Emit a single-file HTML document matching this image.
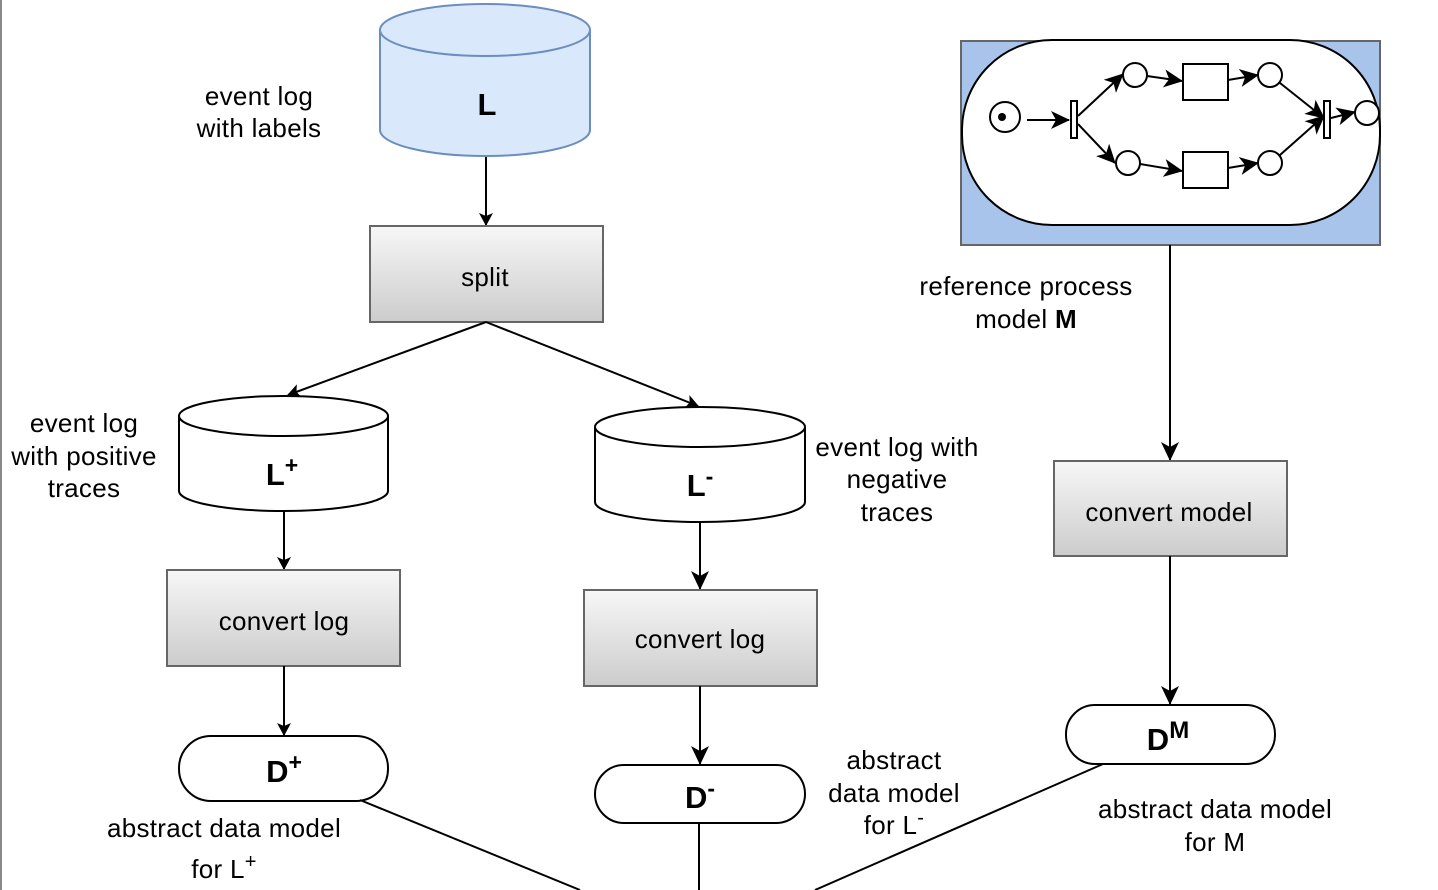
<!DOCTYPE html>
<html><head><meta charset="utf-8"><style>
html,body{margin:0;padding:0;background:#fff;}
svg{display:block;}
text{font-family:"Liberation Sans",Arial,sans-serif;fill:#000;}
</style></head><body>
<svg width="1438" height="890" viewBox="0 0 1438 890" xmlns="http://www.w3.org/2000/svg">
<defs>
<linearGradient id="g" x1="0" y1="0" x2="0" y2="1"><stop offset="0" stop-color="#f7f7f7"/><stop offset="1" stop-color="#cccccc"/></linearGradient>
<marker id="a" markerWidth="14" markerHeight="14" refX="12" refY="7" orient="auto" markerUnits="userSpaceOnUse"><path d="M0,0 L13,7 L0,14 L3,7 z" fill="#000"/></marker>
<marker id="b" markerWidth="20" markerHeight="20" refX="18" refY="9" orient="auto" markerUnits="userSpaceOnUse"><path d="M0,0 L19,9 L0,18 L5,9 z" fill="#000"/></marker>
</defs>
<line x1="1" y1="0" x2="1" y2="890" stroke="#888" stroke-width="2"/>
<g stroke="#000" stroke-width="2" fill="none">
<path d="M380,30 L380,130 A105,26 0 0 0 590,130 L590,30" fill="#dae8fc" stroke="#6c8ebf"/>
<ellipse cx="485" cy="30" rx="105" ry="26" fill="#dae8fc" stroke="#6c8ebf"/>
<line x1="486" y1="157" x2="486" y2="225" marker-end="url(#a)"/>
<rect x="370" y="226" width="233" height="96" fill="url(#g)" stroke="#666"/>
<line x1="486" y1="322" x2="288" y2="395" marker-end="url(#a)"/>
<line x1="486" y1="322" x2="698" y2="406" marker-end="url(#a)"/>
<path d="M179,416 L179,491 A104.5,20 0 0 0 388,491 L388,416" fill="#fff"/>
<ellipse cx="283.5" cy="416" rx="104.5" ry="20" fill="#fff"/>
<path d="M595,427 L595,502 A105,20 0 0 0 805,502 L805,427" fill="#fff"/>
<ellipse cx="700" cy="427" rx="105" ry="20" fill="#fff"/>
<line x1="284" y1="511" x2="284" y2="569" marker-end="url(#a)"/>
<line x1="700" y1="522" x2="700" y2="589" marker-end="url(#b)"/>
<rect x="167" y="570" width="233" height="96" fill="url(#g)" stroke="#666"/>
<rect x="584" y="590" width="233" height="96" fill="url(#g)" stroke="#666"/>
<line x1="284" y1="666" x2="284" y2="735" marker-end="url(#a)"/>
<line x1="700" y1="686" x2="700" y2="764" marker-end="url(#b)"/>
<rect x="179" y="736" width="209" height="65" rx="32" fill="#fff"/>
<rect x="595" y="765" width="210" height="58" rx="29" fill="#fff"/>
<line x1="360" y1="800" x2="580" y2="890"/>
<line x1="699" y1="823" x2="699" y2="890"/>
<line x1="1103" y1="764" x2="815" y2="890"/>
<rect x="961" y="41" width="419" height="204" fill="#a9c4eb" stroke="#666"/>
<rect x="962" y="40" width="418" height="185" rx="90" fill="#fff"/>
<line x1="1170" y1="245" x2="1170" y2="460" marker-end="url(#b)"/>
<rect x="1054" y="461" width="233" height="95" fill="url(#g)" stroke="#666"/>
<line x1="1170" y1="556" x2="1170" y2="704" marker-end="url(#b)"/>
<rect x="1066" y="705" width="209" height="59" rx="29" fill="#fff"/>
<circle cx="1005" cy="117" r="15" fill="#fff"/>
<circle cx="1002" cy="117" r="4" fill="#000" stroke="none"/>
<line x1="1027" y1="120" x2="1069" y2="120" marker-end="url(#b)"/>
<rect x="1071" y="101" width="6" height="37" fill="#fff"/>
<line x1="1078" y1="116" x2="1123" y2="74" marker-end="url(#b)"/>
<line x1="1078" y1="124" x2="1115" y2="163" marker-end="url(#b)"/>
<circle cx="1135" cy="75" r="12" fill="#fff"/>
<circle cx="1128" cy="163" r="12" fill="#fff"/>
<line x1="1147" y1="76" x2="1182" y2="81" marker-end="url(#b)"/>
<line x1="1140" y1="164" x2="1182" y2="171" marker-end="url(#b)"/>
<rect x="1183" y="64" width="45" height="36" fill="#fff"/>
<rect x="1183" y="152" width="45" height="36" fill="#fff"/>
<line x1="1228" y1="80" x2="1258" y2="75" marker-end="url(#b)"/>
<line x1="1228" y1="168" x2="1258" y2="163" marker-end="url(#b)"/>
<circle cx="1270" cy="75" r="12" fill="#fff"/>
<circle cx="1270" cy="163" r="12" fill="#fff"/>
<line x1="1280" y1="83" x2="1324" y2="118" marker-end="url(#b)"/>
<line x1="1280" y1="155" x2="1324" y2="116" marker-end="url(#b)"/>
<rect x="1324" y="101" width="6" height="37" fill="#fff"/>
<line x1="1331" y1="118" x2="1355" y2="112" marker-end="url(#b)"/>
<circle cx="1367" cy="113" r="12" fill="#fff"/>
</g>
<g font-size="26" text-anchor="middle" letter-spacing="0.3">
<text x="259" y="105">event log</text>
<text x="259" y="137">with labels</text>
<text x="485" y="286">split</text>
<text x="84" y="432">event log</text>
<text x="84" y="465">with positive</text>
<text x="84" y="497">traces</text>
<text x="897" y="456">event log with</text>
<text x="897" y="488">negative</text>
<text x="897" y="521">traces</text>
<text x="284" y="630">convert log</text>
<text x="700" y="648">convert log</text>
<text x="1026" y="295">reference process</text>
<text x="1026" y="328">model <tspan font-weight="bold">M</tspan></text>
<text x="1169" y="521">convert model</text>
<text x="224" y="837">abstract data model</text>
<text x="224" y="878">for L<tspan font-size="20" dy="-10">+</tspan></text>
<text x="894" y="769">abstract</text>
<text x="894" y="802">data model</text>
<text x="894" y="834">for L<tspan font-size="20" dy="-10">-</tspan></text>
<text x="1215" y="818">abstract data model</text>
<text x="1215" y="851">for M</text>
</g>
<g font-size="31" font-weight="bold" text-anchor="middle">
<text x="487" y="115">L</text>
<text x="282" y="485">L<tspan font-size="23" dy="-12">+</tspan></text>
<text x="700" y="496">L<tspan font-size="23" dy="-12">-</tspan></text>
<text x="284" y="782">D<tspan font-size="23" dy="-12">+</tspan></text>
<text x="700" y="808">D<tspan font-size="23" dy="-12">-</tspan></text>
<text x="1168" y="750">D<tspan font-size="24" dy="-12">M</tspan></text>
</g>
</svg>
</body></html>
